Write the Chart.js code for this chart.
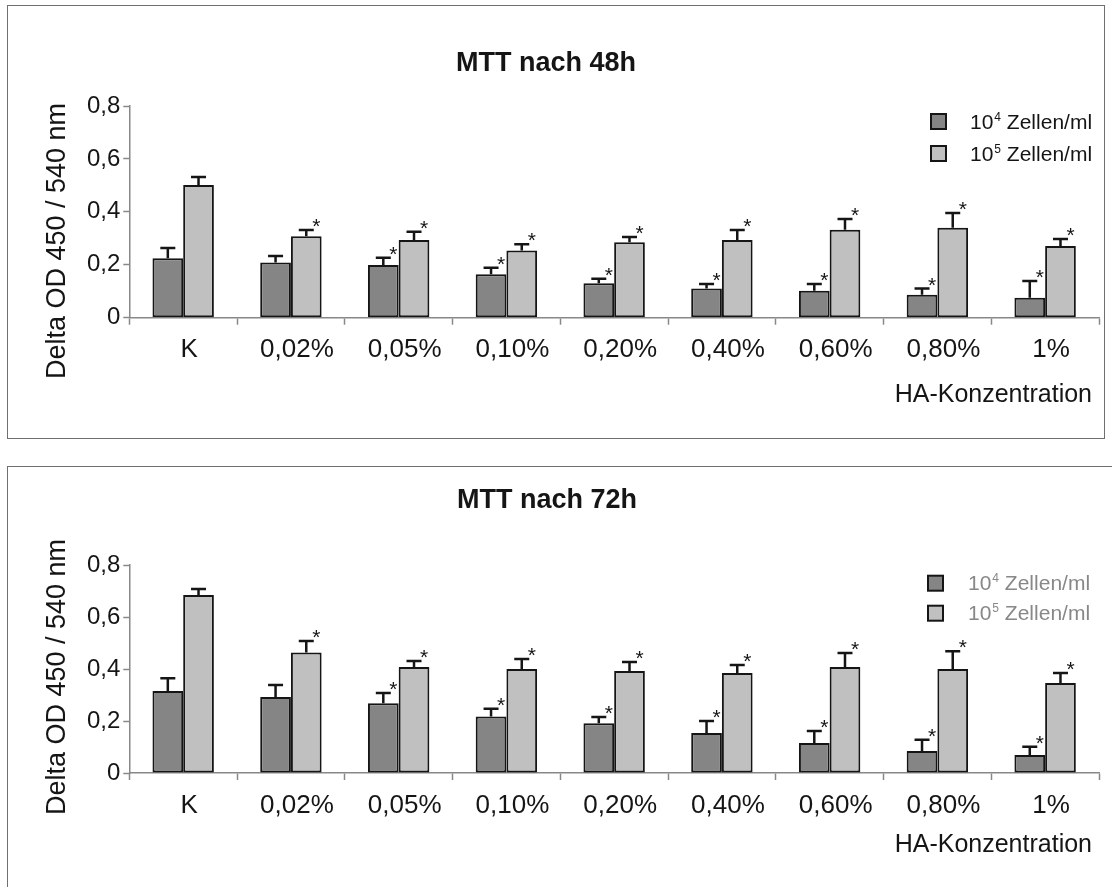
<!DOCTYPE html>
<html>
<head>
<meta charset="utf-8">
<script src="https://cdn.jsdelivr.net/npm/chart.js@4/dist/chart.umd.min.js"></script>
<style>
body { margin: 0; background: #fff; width: 1112px; height: 887px; overflow: hidden; position: relative; }
.panel { position: absolute; border: 1px solid #707070; }
#p48 { left: 7px; top: 5px; width: 1096px; height: 432px; }
#p72 { left: 7px; top: 466px; width: 1130px; height: 440px; }
.panel canvas { position: absolute; left: 0; top: 0; }
</style>
</head>
<body>
<div class="panel" id="p48"><canvas id="c48" width="1096" height="432"></canvas></div>
<div class="panel" id="p72"><canvas id="c72" width="1104" height="420"></canvas></div>
<script>
// categories / tick labels
const categories = ['K', '0,02%', '0,05%', '0,10%', '0,20%', '0,40%', '0,60%', '0,80%', '1%'];
const yTicks = [0, 0.2, 0.4, 0.6, 0.8];
const seriesBase = ['10', '10'];
const seriesExp = ['4', '5'];
const seriesUnit = ' Zellen/ml';

// MTT nach 48h (mean + upper error)
const mean48_e4 = [0.225, 0.209, 0.199, 0.164, 0.130, 0.110, 0.102, 0.087, 0.075];
const err48_e4  = [0.038, 0.024, 0.028, 0.025, 0.017, 0.017, 0.025, 0.023, 0.064];
const mean48_e5 = [0.501, 0.308, 0.294, 0.254, 0.285, 0.294, 0.332, 0.340, 0.271];
const err48_e5  = [0.031, 0.023, 0.031, 0.024, 0.020, 0.037, 0.041, 0.056, 0.026];

// MTT nach 72h
const mean72_e4 = [0.315, 0.292, 0.268, 0.217, 0.191, 0.154, 0.115, 0.085, 0.069];
const err72_e4  = [0.049, 0.046, 0.040, 0.030, 0.024, 0.046, 0.047, 0.043, 0.032];
const mean72_e5 = [0.685, 0.463, 0.408, 0.400, 0.392, 0.385, 0.408, 0.400, 0.346];
const err72_e5  = [0.023, 0.045, 0.023, 0.038, 0.035, 0.030, 0.054, 0.068, 0.039];

// significance stars
const sig_e4 = [false, false, true, true, true, true, true, true, true];
const sig_e5 = [false, true, true, true, true, true, true, true, true];

const FONT = "'Liberation Sans', Arial, sans-serif";
const DARK = '#858585';
const LIGHT = '#c0c0c0';
const INK = '#151515';

// error bars, stars, title, axis titles and legend
const extras = {
    id: 'extras',
    afterDatasetsDraw(chart) {
        const ctx = chart.ctx;
        const y = chart.scales.y;
        ctx.save();
        chart.data.datasets.forEach((ds, i) => {
            chart.getDatasetMeta(i).data.forEach((bar, j) => {
                const top = y.getPixelForValue(ds.data[j] + ds.err[j]);
                ctx.strokeStyle = INK;
                ctx.lineWidth = 2.5;
                ctx.beginPath();
                ctx.moveTo(bar.x, bar.y);
                ctx.lineTo(bar.x, top);
                ctx.moveTo(bar.x - 7.5, top);
                ctx.lineTo(bar.x + 7.5, top);
                ctx.stroke();
                if (ds.sig[j]) {
                    ctx.fillStyle = INK;
                    ctx.font = '21px ' + FONT;
                    ctx.textAlign = 'center';
                    ctx.textBaseline = 'alphabetic';
                    ctx.fillText('*', bar.x + 10, top + 3);
                }
            });
        });
        ctx.restore();
    },
    afterDraw(chart, args, o) {
        const ctx = chart.ctx;
        ctx.save();
        ctx.fillStyle = INK;
        ctx.textBaseline = 'alphabetic';

        // title
        ctx.font = 'bold 27px ' + FONT;
        ctx.textAlign = 'center';
        ctx.fillText(o.title, o.titleX, o.titleY);

        // y title
        ctx.save();
        ctx.translate(o.yTitleX, o.yTitleY);
        ctx.rotate(-Math.PI / 2);
        ctx.font = '27px ' + FONT;
        ctx.fillText('Delta OD 450 / 540 nm', 0, 0);
        ctx.restore();

        // x title
        ctx.font = '25px ' + FONT;
        ctx.textAlign = 'right';
        ctx.fillText('HA-Konzentration', o.xTitleX, o.xTitleY);

        // legend
        ctx.textAlign = 'left';
        chart.data.datasets.forEach((ds, i) => {
            const by = o.legendY[i];
            ctx.fillStyle = ds.backgroundColor;
            ctx.fillRect(o.legendX, by, 15, 15);
            ctx.strokeStyle = INK;
            ctx.lineWidth = 2;
            ctx.strokeRect(o.legendX, by, 15, 15);

            const base = by + 14.5;
            let tx = o.legendTextX;
            ctx.fillStyle = o.legendColor;
            ctx.font = '21px ' + FONT;
            ctx.fillText(seriesBase[i], tx, base);
            tx += ctx.measureText(seriesBase[i]).width + 1;
            ctx.font = '12px ' + FONT;
            ctx.fillText(seriesExp[i], tx, base - 8);
            tx += ctx.measureText(seriesExp[i]).width;
            ctx.font = '21px ' + FONT;
            ctx.fillText(seriesUnit, tx, base);
        });
        ctx.restore();
    }
};

function makeChart(id, dark, darkErr, light, lightErr, layout) {
    return new Chart(document.getElementById(id), {
        type: 'bar',
        data: {
            labels: categories,
            datasets: [
                { label: '10⁴ Zellen/ml', data: dark, err: darkErr, sig: sig_e4,
                  backgroundColor: DARK, borderColor: INK, borderWidth: 2, borderSkipped: false },
                { label: '10⁵ Zellen/ml', data: light, err: lightErr, sig: sig_e5,
                  backgroundColor: LIGHT, borderColor: INK, borderWidth: 2, borderSkipped: false }
            ]
        },
        options: {
            responsive: false,
            animation: false,
            layout: { padding: { top: layout.top, right: layout.right, bottom: 0, left: 0 } },
            datasets: { bar: { barPercentage: 1, categoryPercentage: 0.57 } },
            plugins: {
                legend: { display: false },
                tooltip: { enabled: false },
                extras: layout.text
            },
            scales: {
                x: {
                    grid: { drawOnChartArea: false, drawTicks: true, tickLength: 7, color: '#888', tickWidth: 1.5 },
                    border: { display: true, color: '#888', width: 1.5 },
                    ticks: { color: INK, font: { family: FONT, size: 26 }, padding: 10, labelOffset: 6, maxRotation: 0 },
                    afterFit: (s) => { s.height = layout.xHeight; }
                },
                y: {
                    min: 0, max: 0.8,
                    afterBuildTicks: (s) => { s.ticks = yTicks.map(v => ({ value: v })); },
                    grid: { drawOnChartArea: false, drawTicks: true, tickLength: 6, color: '#888', tickWidth: 1.5 },
                    border: { display: true, color: '#888', width: 1.5 },
                    ticks: {
                        color: INK, font: { family: FONT, size: 24 }, padding: 3,
                        callback: (v) => v === 0 ? '0' : v.toFixed(1).replace('.', ',')
                    },
                    afterFit: (s) => { s.width = 121.3; }
                }
            }
        },
        plugins: [extras]
    });
}

makeChart('c48', mean48_e4, err48_e4, mean48_e5, err48_e5, {
    top: 100, right: 5, xHeight: 120.3,
    text: {
        title: 'MTT nach 48h', titleX: 538, titleY: 65,
        yTitleX: 57, yTitleY: 235,
        xTitleX: 1084, xTitleY: 396,
        legendX: 923, legendY: [108, 140], legendTextX: 962, legendColor: INK
    }
});

makeChart('c72', mean72_e4, err72_e4, mean72_e5, err72_e5, {
    top: 98, right: 13, xHeight: 114,
    text: {
        title: 'MTT nach 72h', titleX: 539, titleY: 41,
        yTitleX: 57, yTitleY: 210,
        xTitleX: 1084, xTitleY: 385,
        legendX: 920, legendY: [108.7, 138.7], legendTextX: 960, legendColor: '#888'
    }
});
</script>
</body>
</html>
